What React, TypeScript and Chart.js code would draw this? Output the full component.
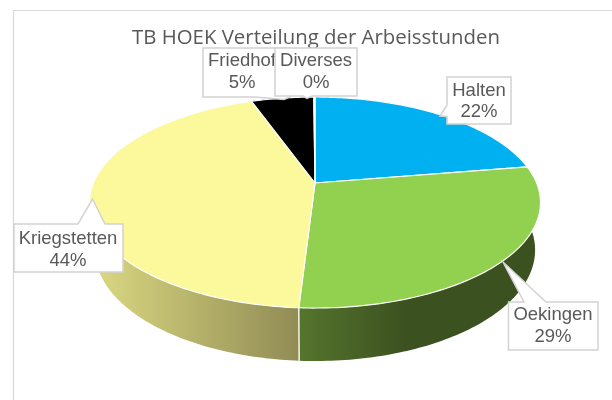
import React, { useEffect, useRef } from "react";
import { Chart, registerables } from "chart.js";

Chart.register(...registerables);

const categories = ["Halten", "Oekingen", "Kriegstetten", "Friedhof", "Diverses"];
const hours = [22.4, 28.55, 43.6, 5.35, 0.1];
const topColors = ["#00b0f0", "#92d050", "#fbf99b", "#000000", "#000000"];
const titleText = "TB HOEK Verteilung der Arbeisstunden";

// wall shading per slice: [x, colour] stops
const wallStops: Record<number, [number, string][]> = {
  0: [[0, "#00709a"], [612, "#00709a"]],
  1: [[300, "#55752d"], [405, "#3c5120"], [540, "#3c5120"]],
  2: [[100, "#d8d680"], [298, "#918c55"]],
  3: [[0, "#000000"], [612, "#000000"]],
  4: [[0, "#000000"], [612, "#000000"]],
};

// callout geometry: label index, text centre, line y's, outline
const callouts = [
  { i: 0, cx: 479, ys: [91, 112], pts: [[447, 77], [511, 77], [511, 124], [447, 124], [447, 116.5], [440, 116], [447, 105]] },
  { i: 1, cx: 553, ys: [315, 337], pts: [[524, 302], [503, 262], [546, 302], [598, 302], [598, 350], [508.5, 350], [508.5, 302]] },
  { i: 2, cx: 68, ys: [239, 261], pts: [[14, 224], [78, 224], [92.5, 199], [105, 224], [123, 224], [123, 272], [14, 272]] },
  { i: 3, cx: 242, ys: [61, 83], pts: [[203, 48], [290, 48], [290, 97], [284, 99.5], [255, 97], [203, 97]] },
  { i: 4, cx: 316, ys: [61, 83], pts: [[275, 48], [357, 48], [357, 96], [312, 96], [307, 98.5], [303, 96], [275, 96]] },
];

// perspective model of the disc: top face and the lower rim of the wall
const TOP = { px: 315, py: 183, A: 221.6, B: 101.9, k: 0.185 };
const RIM = { px: 315, py: 229.5, A: 216.3, B: 107.2, k: 0.185 };

function project(a: number, bottom: boolean): [number, number] {
  const m = bottom ? RIM : TOP;
  const X = Math.cos(a);
  const Y = Math.sin(a);
  const w = 1 - m.k * Y;
  return [m.px + (m.A * X) / w, m.py + (m.B * Y) / w];
}

function arcPoints(start: number, end: number, bottom: boolean) {
  const n = Math.max(2, Math.ceil(((end - start) * 180) / Math.PI));
  const out: [number, number][] = [];
  for (let j = 0; j <= n; j++) out.push(project(start + ((end - start) * j) / n, bottom));
  return out;
}

const pie3d = {
  id: "pie3d",
  beforeDraw(chart: any) {
    const ctx = chart.ctx;
    ctx.save();
    ctx.fillStyle = "#ffffff";
    ctx.fillRect(0, 0, 612, 400);
    ctx.strokeStyle = "#d9d9d9";
    ctx.lineWidth = 1.2;
    ctx.beginPath();
    ctx.moveTo(13.5, 400);
    ctx.lineTo(13.5, 10.5);
    ctx.lineTo(612, 10.5);
    ctx.stroke();
    ctx.restore();
  },
  beforeDatasetsDraw(chart: any) {
    const ctx = chart.ctx;
    const arcs = chart.getDatasetMeta(0).data;
    ctx.save();
    // walls
    arcs.forEach((el: any, i: number) => {
      const top = arcPoints(el.startAngle, el.endAngle, false);
      const bot = arcPoints(el.startAngle, el.endAngle, true).reverse();
      const g = ctx.createLinearGradient(0, 0, 612, 0);
      wallStops[i].forEach(([x, c]) => g.addColorStop(x / 612, c));
      ctx.fillStyle = g;
      ctx.beginPath();
      [...top, ...bot].forEach((p, j) => (j ? ctx.lineTo(p[0], p[1]) : ctx.moveTo(p[0], p[1])));
      ctx.closePath();
      ctx.fill();
    });
    // seams on the wall
    arcs.forEach((el: any) => {
      const a = el.endAngle;
      if (Math.sin(a) < 0.3) return;
      const t = project(a, false);
      const b = project(a, true);
      ctx.strokeStyle = "#f4f4ee";
      ctx.lineWidth = 1.5;
      ctx.beginPath();
      ctx.moveTo(t[0], t[1]);
      ctx.lineTo(b[0], b[1]);
      ctx.stroke();
    });
    // top faces
    arcs.forEach((el: any, i: number) => {
      const pts = arcPoints(el.startAngle, el.endAngle, false);
      ctx.fillStyle = topColors[i];
      ctx.strokeStyle = "#ffffff";
      ctx.lineWidth = 1.2;
      ctx.lineJoin = "round";
      ctx.beginPath();
      ctx.moveTo(TOP.px, TOP.py);
      pts.forEach((p) => ctx.lineTo(p[0], p[1]));
      ctx.closePath();
      ctx.fill();
      ctx.stroke();
    });
    ctx.restore();
    return false;
  },
  afterDraw(chart: any) {
    const ctx = chart.ctx;
    const data = chart.data.datasets[0].data as number[];
    const total = data.reduce((s, v) => s + v, 0);
    ctx.save();
    callouts.forEach((c) => {
      ctx.fillStyle = "#ffffff";
      ctx.strokeStyle = "#d2d2d2";
      ctx.lineWidth = 1.5;
      ctx.lineJoin = "miter";
      ctx.beginPath();
      c.pts.forEach((p, j) => (j ? ctx.lineTo(p[0], p[1]) : ctx.moveTo(p[0], p[1])));
      ctx.closePath();
      ctx.fill();
      ctx.stroke();
      ctx.fillStyle = "#595959";
      ctx.font = "18.5px 'Liberation Sans'";
      ctx.textAlign = "center";
      ctx.textBaseline = "middle";
      ctx.fillText(categories[c.i], c.cx, c.ys[0]);
      ctx.fillText(Math.round((data[c.i] / total) * 100) + "%", c.cx, c.ys[1]);
    });
    ctx.restore();
  },
};

export default function App() {
  const ref = useRef<HTMLCanvasElement>(null);
  useEffect(() => {
    const chart = new Chart(ref.current as HTMLCanvasElement, {
      type: "pie",
      data: {
        labels: categories,
        datasets: [{ data: hours, backgroundColor: topColors }],
      },
      options: {
        responsive: false,
        animation: false,
        layout: { padding: { left: 20 } },
        plugins: {
          legend: { display: false },
          tooltip: { enabled: false },
          title: {
            display: true,
            fullSize: false,
            text: titleText,
            color: "#595959",
            font: { family: "'Open Sans'", size: 20.4, weight: "normal" },
            padding: { top: 26, bottom: 0 },
          },
        },
      },
      plugins: [pie3d],
    } as any);
    return () => chart.destroy();
  }, []);
  return (
    <div style={{ position: "fixed", left: 0, top: 0, width: 612, height: 400 }}>
      <canvas ref={ref} width={612} height={400} style={{ display: "block" }} />
    </div>
  );
}
